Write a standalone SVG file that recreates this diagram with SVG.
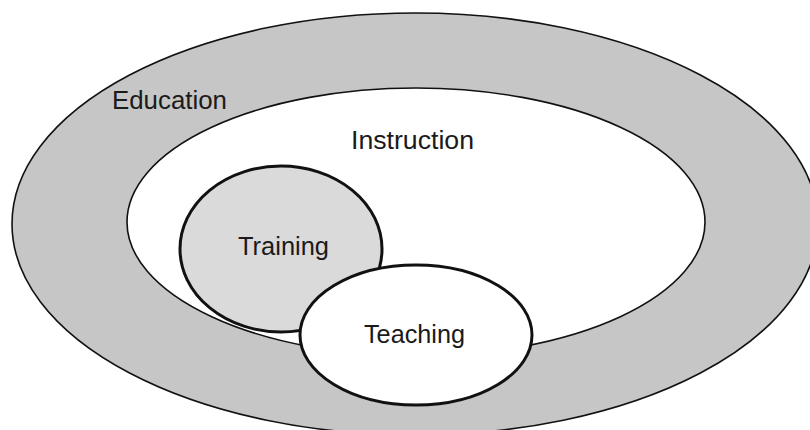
<svg xmlns="http://www.w3.org/2000/svg" width="810" height="430" viewBox="0 0 810 430">
<style>
.lbl{font-family:"Liberation Sans","DejaVu Sans",sans-serif;font-size:25px;fill:#1a1a1a;text-anchor:middle}
.thin{stroke:#111;stroke-width:1.6}
.thick{stroke:#111;stroke-width:3}
</style>
<rect width="810" height="430" fill="#ffffff"/>
<g id="education">
<ellipse cx="415" cy="224" rx="403" ry="211" fill="#c6c6c6" class="thin"/>
<text class="lbl" x="169.5" y="109" textLength="115" lengthAdjust="spacingAndGlyphs">Education</text>
</g>
<g id="instruction">
<ellipse cx="416" cy="222" rx="289" ry="134" fill="#ffffff" class="thin"/>
<text class="lbl" x="412.5" y="149" textLength="123" lengthAdjust="spacingAndGlyphs">Instruction</text>
</g>
<g id="training">
<ellipse cx="281" cy="249" rx="101" ry="83" fill="#dadada" class="thick"/>
<text class="lbl" x="283.5" y="255" textLength="91" lengthAdjust="spacingAndGlyphs">Training</text>
</g>
<g id="teaching">
<ellipse cx="416" cy="335" rx="116" ry="70" fill="#ffffff" class="thick"/>
<text class="lbl" x="414.5" y="343" textLength="101" lengthAdjust="spacingAndGlyphs">Teaching</text>
</g>
</svg>
